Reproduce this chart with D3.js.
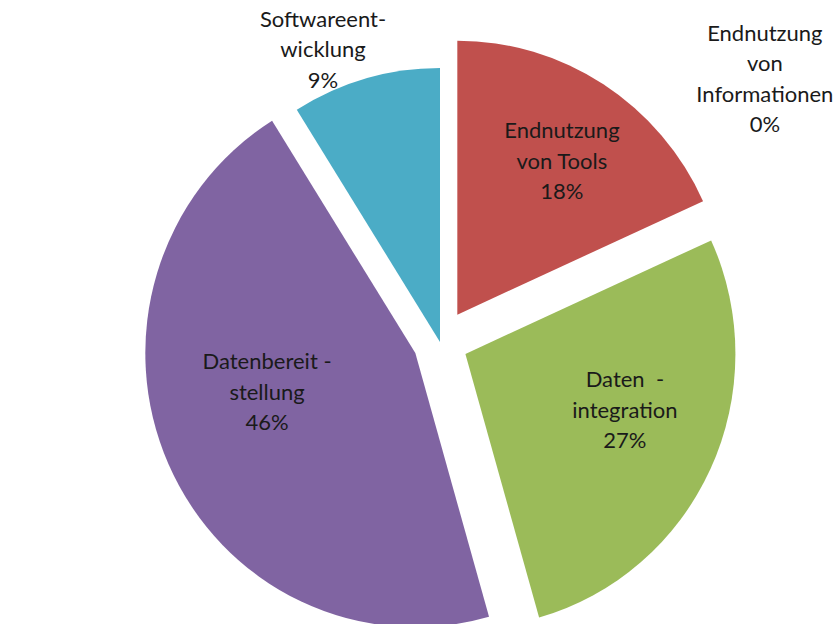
<!DOCTYPE html>
<html>
<head>
<meta charset="utf-8">
<script src="https://cdn.jsdelivr.net/npm/d3@7"></script>
<style>
  html, body { margin: 0; padding: 0; background: #ffffff; }
  svg { display: block; }
  text { white-space: pre; }
</style>
</head>
<body>
<script>
// ---- data ----
const categories = ["Endnutzung von Informationen", "Endnutzung von Tools", "Datenintegration", "Datenbereitstellung", "Softwareentwicklung"];
const values = [0, 18.2, 27.4, 45.5, 8.9];
const labelNameLines = [
  ["Endnutzung", "von", "Informationen"],
  ["Endnutzung", "von Tools"],
  ["Daten  -", "integration"],
  ["Datenbereit -", "stellung"],
  ["Softwareent-", "wicklung"]
];

// ---- styling / layout ----
const colors = ["#4F81BD", "#C0504D", "#9BBB59", "#8064A2", "#4BACC6"];
const explode = [0, 32, 28, 27, 0];
// label placement: [angle in degrees clockwise from 12 o'clock, distance from pie centre]
const labelPolar = [[51.0, 418], [34.0, 218], [110.2, 197], [253.9, 180], [338.2, 315]];

const W = 840, H = 624;
const cx = 440, cy = 342, R = 270, sy = 1.015;
const lineH = 30.5;

const svg = d3.select("body").append("svg").attr("width", W).attr("height", H);
const g = svg.append("g").attr("transform", `translate(${cx},${cy})`);
const gs = g.append("g").attr("transform", `scale(1,${sy})`);

const total = d3.sum(values);
const data = categories.map((c, i) => ({ name: c, value: values[i], i }));
const pie = d3.pie().sort(null).value(d => d.value).startAngle(0).endAngle(2 * Math.PI);
const arcs = pie(data);
const arc = d3.arc().innerRadius(0).outerRadius(R);

gs.selectAll("path.slice")
  .data(arcs.filter(a => a.endAngle - a.startAngle > 0))
  .join("path")
  .attr("class", "slice")
  .attr("d", arc)
  .attr("fill", d => colors[d.data.i])
  .attr("transform", d => {
    const m = (d.startAngle + d.endAngle) / 2;
    const e = explode[d.data.i];
    return `translate(${e * Math.sin(m)},${-e * Math.cos(m)})`;
  });

const labels = g.selectAll("text.lbl")
  .data(arcs)
  .join("text")
  .attr("class", "lbl")
  .attr("font-family", "Lato, 'Open Sans', sans-serif")
  .attr("font-size", 22)
  .attr("fill", "#1a1a1a")
  .attr("text-anchor", "middle")
  .attr("transform", d => {
    const [aDeg, dist] = labelPolar[d.data.i];
    const a = aDeg * Math.PI / 180;
    return `translate(${dist * Math.sin(a)},${-dist * Math.cos(a)})`;
  });

labels.each(function(d) {
  const pct = Math.round(d.data.value / total * 100) + "%";
  const lines = labelNameLines[d.data.i].concat([pct]);
  const n = lines.length;
  const t = d3.select(this);
  lines.forEach((ln, k) => {
    t.append("tspan")
      .attr("x", 0)
      .attr("y", (k - (n - 1) / 2) * lineH)
      .attr("dy", "0.35em")
      .text(ln);
  });
});
</script>
</body>
</html>
